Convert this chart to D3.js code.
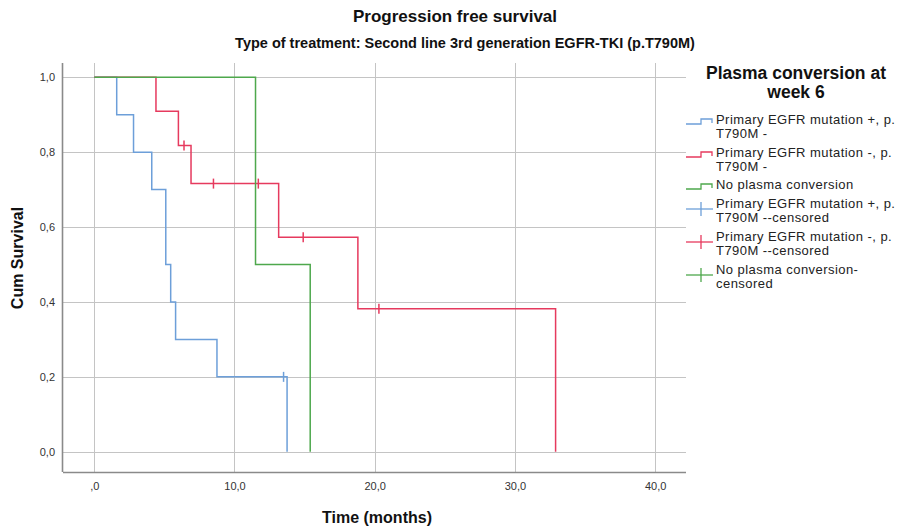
<!DOCTYPE html>
<html>
<head>
<meta charset="utf-8">
<script src="https://cdn.jsdelivr.net/npm/d3@7"></script>
<style>
  html, body { margin: 0; padding: 0; background: #fff; }
  svg { display: block; font-family: "Liberation Sans", Arial, sans-serif; }
</style>
</head>
<body>
<svg id="chart" width="906" height="529"></svg>
<script>
// Kaplan–Meier steps per group: event times (months) and cumulative survival after each step
const blueTimes = [0, 1.6, 2.8, 4.1, 5.1, 5.45, 5.8, 8.75, 13.75];
const blueSurv  = [1, 0.9, 0.8, 0.7, 0.5, 0.4, 0.3, 0.2, 0];
const blueCensored = [13.5];

const redTimes = [0, 4.4, 6.0, 6.9, 13.15, 18.8, 32.9];
const redSurv  = [1, 0.909, 0.818, 0.716, 0.573, 0.382, 0];
const redCensored = [6.4, 8.5, 11.7, 14.9, 20.3];

const greenTimes = [0, 11.5, 15.4];
const greenSurv  = [1, 0.5, 0];
const greenCensored = [];

const xTicks = [0, 10, 20, 30, 40];
const xTickLabels = [",0", "10,0", "20,0", "30,0", "40,0"];
const yTicks = [0, 0.2, 0.4, 0.6, 0.8, 1.0];
const yTickLabels = ["0,0", "0,2", "0,4", "0,6", "0,8", "1,0"];

const groupNames = [
  "Primary EGFR mutation +, p. T790M -",
  "Primary EGFR mutation -, p. T790M -",
  "No plasma conversion"
];
const groupColors = ["#6d9fd9", "#e63a5e", "#4ea84c"];

const series = [
  { times: blueTimes, surv: blueSurv, censored: blueCensored, color: groupColors[0] },
  { times: redTimes, surv: redSurv, censored: redCensored, color: groupColors[1] },
  { times: greenTimes, surv: greenSurv, censored: greenCensored, color: groupColors[2] }
];

const svg = d3.select("#chart");
const frame = { left: 63, right: 686, top: 63, bottom: 472 };

const x = d3.scaleLinear().domain([-2.23, 42.2]).range([frame.left, frame.right]);
const y = d3.scaleLinear().domain([-0.054, 1.038]).range([frame.bottom, frame.top]);

// Grid
const grid = svg.append("g").attr("stroke", "#c4c4c4").attr("stroke-width", 1);
grid.selectAll("line.v").data(xTicks).join("line")
  .attr("x1", d => Math.round(x(d)) + 0.5).attr("x2", d => Math.round(x(d)) + 0.5)
  .attr("y1", frame.top).attr("y2", frame.bottom);
grid.selectAll("line.h").data(yTicks).join("line")
  .attr("y1", d => Math.round(y(d)) + 0.5).attr("y2", d => Math.round(y(d)) + 0.5)
  .attr("x1", frame.left).attr("x2", frame.right);

// Axes
const xAxis = d3.axisBottom(x).tickValues(xTicks).tickSize(0).tickPadding(10)
  .tickFormat((d, i) => xTickLabels[i]);
const yAxis = d3.axisLeft(y).tickValues(yTicks).tickSize(0).tickPadding(8)
  .tickFormat((d, i) => yTickLabels[i]);

const gx = svg.append("g").attr("transform", `translate(0,${frame.bottom})`).call(xAxis);
gx.select(".domain").attr("d", `M${frame.left},0.5H${frame.right}`)
  .attr("stroke", "#8a8a8a").attr("stroke-width", 1.6);
gx.selectAll("text").attr("font-size", 11).attr("fill", "#333")
  .attr("font-family", "Liberation Sans, Arial, sans-serif");

const gy = svg.append("g").attr("transform", `translate(${frame.left},0)`).call(yAxis);
gy.select(".domain").attr("d", `M-0.5,${frame.top}V${frame.bottom}`)
  .attr("stroke", "#8a8a8a").attr("stroke-width", 1.6);
gy.selectAll("text").attr("font-size", 11).attr("fill", "#333")
  .attr("font-family", "Liberation Sans, Arial, sans-serif");

// Survival curves
const stepLine = d3.line()
  .x(d => x(d[0]))
  .y(d => y(d[1]))
  .curve(d3.curveStepAfter);

function survivalAt(s, t) {
  let v = s.surv[0];
  for (let i = 0; i < s.times.length; i++) if (s.times[i] <= t) v = s.surv[i];
  return v;
}

series.forEach(s => {
  const pts = s.times.map((t, i) => [t, s.surv[i]]);
  svg.append("path").datum(pts)
    .attr("d", stepLine)
    .attr("fill", "none")
    .attr("stroke", s.color)
    .attr("stroke-width", 1.5);
  svg.append("g").selectAll("line").data(s.censored).join("line")
    .attr("x1", d => x(d)).attr("x2", d => x(d))
    .attr("y1", d => y(survivalAt(s, d)) - 5)
    .attr("y2", d => y(survivalAt(s, d)) + 5)
    .attr("stroke", s.color).attr("stroke-width", 1.5);
});

// Titles
svg.append("text").attr("x", 455).attr("y", 22).attr("text-anchor", "middle")
  .attr("font-weight", "bold").attr("font-size", 17).attr("fill", "#111")
  .text("Progression free survival");
svg.append("text").attr("x", 465).attr("y", 48).attr("text-anchor", "middle")
  .attr("font-weight", "bold").attr("font-size", 14.5).attr("fill", "#111")
  .text("Type of treatment: Second line 3rd generation EGFR-TKI (p.T790M)");

svg.append("text").attr("x", 377).attr("y", 523).attr("text-anchor", "middle")
  .attr("font-weight", "bold").attr("font-size", 16).attr("fill", "#111")
  .text("Time (months)");
svg.append("text").attr("transform", "translate(23,258) rotate(-90)")
  .attr("text-anchor", "middle")
  .attr("font-weight", "bold").attr("font-size", 16).attr("fill", "#111")
  .text("Cum Survival");

// Legend
const legend = svg.append("g");
legend.append("text").attr("x", 796).attr("y", 79).attr("text-anchor", "middle")
  .attr("font-weight", "bold").attr("font-size", 17.5).attr("fill", "#111")
  .text("Plasma conversion at");
legend.append("text").attr("x", 796).attr("y", 98).attr("text-anchor", "middle")
  .attr("font-weight", "bold").attr("font-size", 17.5).attr("fill", "#111")
  .text("week 6");

const legendItems = [
  { kind: "step", color: groupColors[0], lines: ["Primary EGFR mutation +, p.", "T790M -"], y: 119 },
  { kind: "step", color: groupColors[1], lines: ["Primary EGFR mutation -, p.", "T790M -"], y: 152 },
  { kind: "step", color: groupColors[2], lines: ["No plasma conversion"], y: 184 },
  { kind: "cross", color: groupColors[0], lines: ["Primary EGFR mutation +, p.", "T790M --censored"], y: 203 },
  { kind: "cross", color: groupColors[1], lines: ["Primary EGFR mutation -, p.", "T790M --censored"], y: 236 },
  { kind: "cross", color: groupColors[2], lines: ["No plasma conversion-", "censored"], y: 269 }
];

legendItems.forEach(it => {
  const g = legend.append("g");
  if (it.kind === "step") {
    const yb = it.y + 5;
    g.append("path")
      .attr("d", `M686,${yb}H701V${yb - 5}H712V${yb - 1}`)
      .attr("fill", "none").attr("stroke", it.color).attr("stroke-width", 1.3);
  } else {
    const yc = it.y + 6;
    g.append("line").attr("x1", 686).attr("x2", 713).attr("y1", yc).attr("y2", yc)
      .attr("stroke", it.color).attr("stroke-width", 1.3);
    g.append("line").attr("x1", 701).attr("x2", 701).attr("y1", yc - 7).attr("y2", yc + 7)
      .attr("stroke", it.color).attr("stroke-width", 1.3);
  }
  it.lines.forEach((ln, j) => {
    g.append("text").attr("x", 716).attr("y", it.y + 5 + j * 13.5)
      .attr("font-size", 13).attr("letter-spacing", 0.45)
      .attr("fill", "#222").text(ln);
  });
});
</script>
</body>
</html>
